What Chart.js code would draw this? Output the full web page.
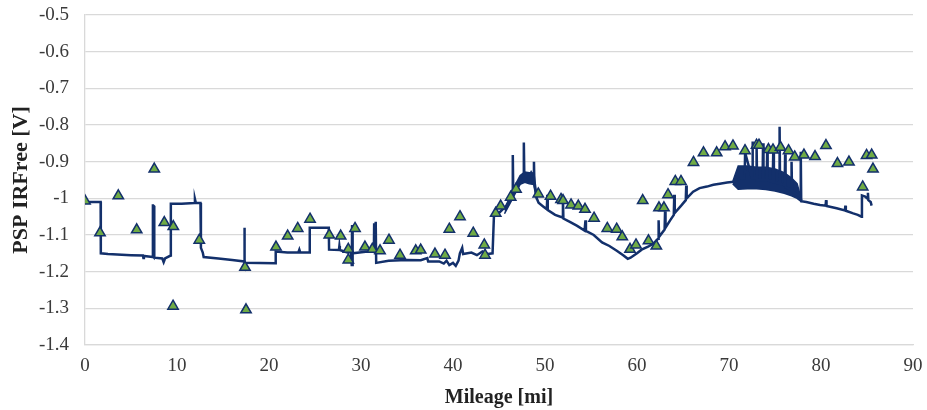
<!DOCTYPE html>
<html>
<head>
<meta charset="utf-8">
<title>PSP IRFree vs Mileage</title>
<script src="https://cdn.jsdelivr.net/npm/chart.js@4/dist/chart.umd.min.js"></script>
<style>
  html, body { margin: 0; padding: 0; background: #fff; }
  #wrap { width: 927px; height: 410px; }
</style>
</head>
<body>
<div id="wrap"><canvas id="chart" width="927" height="410"></canvas></div>
<script>
// Axis settings
const xTicksMin = 0, xTicksMax = 90, xStep = 10;
const yTicksMin = -1.4, yTicksMax = -0.5, yStep = 0.1;

// Continuous PSP IRFree trace (mileage, volts)
const lineMiles = [
  0, 1.70, 1.72, 2.5, 4.0, 5.0, 6.3, 6.35, 6.4, 7.35,
  7.38, 7.41, 7.44, 7.47, 7.50, 7.53, 8.4, 8.55, 8.7, 9.30,
  9.33, 10.5, 11.9, 11.95, 12.05, 12.55, 12.6, 12.8, 12.9, 14.5,
  16.0, 17.30, 17.33, 17.36, 20.70, 20.73, 22.0, 23.2, 23.3, 23.4,
  24.40, 24.43, 26.50, 26.53, 27.6, 27.65, 27.7, 28.2, 28.6, 28.9,
  29.00, 29.03, 29.06, 29.09, 29.12, 30.5, 31.40, 31.43, 31.47, 31.60,
  31.65, 33.0, 35.0, 36.5, 37.2, 37.3, 38.5, 39.0, 39.3, 39.6,
  40.0, 40.3, 40.6, 40.75, 41.0, 41.1, 42.0, 42.6, 43.2, 43.8,
  44.3, 44.45, 45.0, 45.4, 45.8, 46.2, 46.45, 46.5, 46.55, 46.9,
  47.2, 47.5, 47.65, 47.7, 47.75, 48.2, 48.5, 48.75, 48.8, 48.85,
  49.1, 49.3, 49.8, 50.2, 50.25, 50.3, 51.1, 51.9, 51.95, 52.0,
  52.6, 53.5, 54.3, 54.4, 54.45, 55.3, 56.2, 57.0, 57.8, 58.5,
  59.0, 59.3, 60.0, 60.5, 61.2, 61.8, 62.3, 62.35, 62.4, 63.0,
  63.05, 63.1, 63.6, 64.0, 64.05, 64.1, 64.8, 65.3, 65.35, 65.4,
  66.1, 66.8, 67.6, 68.3, 69.0, 69.8, 70.5,
  71.2, 71.7, 71.75, 72.5, 72.55, 72.6, 72.95, 73.0, 73.05, 73.65,
  73.7, 73.75, 74.1, 74.15, 74.2, 74.75, 74.82, 74.88, 75.45, 75.5,
  75.55, 76.05, 76.1, 76.15, 76.75, 76.8, 76.85, 77.75, 77.8, 77.85,
  78.4, 79.2, 79.9, 80.5, 80.55, 80.6, 81.7, 82.6, 82.65, 82.7,
  83.5, 84.0, 84.4, 84.45, 84.8, 85.0, 85.1, 85.15, 85.4, 85.5
];
const lineVolts = [
  -1.010, -1.010, -1.150, -1.152, -1.154, -1.155, -1.156, -1.163, -1.157, -1.160,
  -1.016, -1.160, -1.018, -1.161, -1.020, -1.162, -1.164, -1.174, -1.164, -1.156,
  -1.015, -1.015, -1.013, -1.002, -1.013, -1.013, -1.135, -1.148, -1.160, -1.164,
  -1.168, -1.172, -1.080, -1.176, -1.177, -1.145, -1.148, -1.147, -1.140, -1.148,
  -1.148, -1.080, -1.080, -1.140, -1.141, -1.130, -1.141, -1.145, -1.148, -1.145,
  -1.185, -1.073, -1.185, -1.078, -1.150, -1.146, -1.146, -1.068, -1.150, -1.064,
  -1.176, -1.170, -1.168, -1.169, -1.163, -1.172, -1.172, -1.178, -1.170, -1.182,
  -1.176, -1.184, -1.170, -1.150, -1.135, -1.152, -1.148, -1.155, -1.145, -1.152,
  -1.150, -1.048, -1.040, -1.030, -1.020, -1.000, -0.985, -0.882, -0.985, -0.970,
  -0.955, -0.940, -0.935, -0.848, -0.935, -0.945, -0.930, -0.940, -0.900, -0.965,
  -1.000, -1.012, -1.022, -1.030, -0.990, -1.032, -1.045, -1.052, -1.000, -1.055,
  -1.063, -1.075, -1.088, -1.060, -1.089, -1.100, -1.120, -1.130, -1.143, -1.155,
  -1.165, -1.162, -1.150, -1.140, -1.132, -1.123, -1.110, -1.060, -1.105, -1.085,
  -1.035, -1.080, -1.060, -1.045, -0.990, -1.040, -1.020, -1.005, -0.965, -1.000,
  -0.982, -0.972, -0.968, -0.963, -0.960, -0.957, -0.955,
  -0.945, -0.945, -0.875, -0.945, -0.845, -0.945, -0.945, -0.855, -0.950, -0.950,
  -0.850, -0.950, -0.950, -0.870, -0.950, -0.955, -0.860, -0.955, -0.960, -0.805,
  -0.960, -0.965, -0.880, -0.970, -0.975, -0.900, -0.980, -0.995, -0.873, -1.008,
  -1.010, -1.015, -1.018, -1.020, -1.005, -1.021, -1.027, -1.033, -1.020, -1.034,
  -1.041, -1.045, -1.050, -0.992, -0.995, -1.000, -0.985, -1.005, -1.010, -1.020
];

// Noisy stretch near the peak: upper and lower edge of the trace
const peakMiles = [45.6, 46.2, 46.8, 47.3, 47.8, 48.3, 48.8, 49.1];
const peakTop = [-1.030, -1.000, -0.962, -0.938, -0.928, -0.930, -0.932, -0.990];
const peakBottom = [-1.042, -1.014, -0.985, -0.962, -0.956, -0.960, -0.962, -1.004];

// Dense noisy block on the plateau: upper and lower edge
const bandMiles = [70.4, 71.0, 72.0, 73.0, 74.0, 75.0, 76.0, 76.8, 77.4, 77.9];
const bandTop = [-0.955, -0.912, -0.912, -0.915, -0.915, -0.920, -0.930, -0.945, -0.960, -1.005];
const bandBottom = [-0.960, -0.975, -0.974, -0.974, -0.976, -0.980, -0.986, -0.993, -1.000, -1.010];

// Spot measurements (triangles)
const triMiles = [
  0, 1.63, 3.62, 5.62, 7.53, 8.62, 9.60, 9.57, 12.42, 17.39,
  17.50, 20.76, 22.03, 23.12, 24.46, 26.55, 27.79, 28.62, 28.62, 29.35,
  30.43, 31.23, 32.07, 33.04, 34.24, 35.95, 36.49, 38.04, 39.13, 39.60,
  40.76, 42.20, 43.40, 43.48, 44.64, 45.18, 46.27, 46.85, 49.27, 50.60,
  51.74, 51.96, 52.83, 53.62, 54.35, 55.33, 56.77, 57.79, 58.40, 59.24,
  59.89, 60.62, 61.25, 62.10, 62.39, 62.93, 63.37, 64.16, 64.78, 66.14,
  67.23, 68.66, 69.57, 70.43, 71.74, 72.99, 73.26, 74.29, 74.78, 75.60,
  76.47, 77.14, 78.15, 79.35, 80.54, 81.79, 83.04, 84.53, 84.95, 85.51,
  85.65
];
const triVolts = [
  -1.007, -1.094, -0.993, -1.086, -0.920, -1.066, -1.077, -1.294, -1.114, -1.188,
  -1.304, -1.133, -1.103, -1.082, -1.057, -1.100, -1.103, -1.139, -1.168, -1.082,
  -1.133, -1.139, -1.143, -1.114, -1.155, -1.143, -1.141, -1.152, -1.155, -1.084,
  -1.050, -1.095, -1.127, -1.155, -1.041, -1.021, -0.997, -0.975, -0.988, -0.994,
  -1.003, -1.006, -1.018, -1.021, -1.030, -1.054, -1.082, -1.084, -1.105, -1.139,
  -1.127, -1.006, -1.116, -1.130, -1.026, -1.026, -0.990, -0.954, -0.954, -0.902,
  -0.876, -0.876, -0.859, -0.857, -0.870, -0.855, -0.855, -0.867, -0.868, -0.861,
  -0.870, -0.887, -0.882, -0.886, -0.856, -0.905, -0.901, -0.969, -0.883, -0.882,
  -0.920
];

const navy = '#13306b';
const green = '#6fab45';
const gridGray = '#d9d9d9';
const textGray = '#3a3a3a';
const serif = '"Liberation Serif", "Times New Roman", serif';

const toPoints = (xs, ys) => xs.map((m, i) => ({ x: m, y: ys[i] }));

// two edges filled between them, drawn in the trace colour
function envelope(xs, top, bottom) {
  const common = { showLine: true, pointRadius: 0, borderColor: navy, borderWidth: 1.5, backgroundColor: navy, tension: 0 };
  return [
    Object.assign({ data: toPoints(xs, top), fill: '+1' }, common),
    Object.assign({ data: toPoints(xs, bottom), fill: false }, common)
  ];
}

new Chart(document.getElementById('chart').getContext('2d'), {
  type: 'scatter',
  data: {
    datasets: [
      {
        label: 'Spot readings',
        data: toPoints(triMiles, triVolts),
        pointStyle: 'triangle',
        pointRadius: 6,
        pointHoverRadius: 6,
        backgroundColor: green,
        borderColor: navy,
        borderWidth: 1.5,
        showLine: false
      },
      {
        label: 'PSP IRFree',
        data: toPoints(lineMiles, lineVolts),
        showLine: true,
        pointRadius: 0,
        borderColor: navy,
        borderWidth: 2.5,
        tension: 0,
        fill: false
      },
      ...envelope(peakMiles, peakTop, peakBottom),
      ...envelope(bandMiles, bandTop, bandBottom)
    ]
  },
  options: {
    responsive: false,
    animation: false,
    layout: { padding: { left: 8, right: 14, top: 15, bottom: 0 } },
    plugins: { legend: { display: false }, tooltip: { enabled: false } },
    scales: {
      x: {
        type: 'linear',
        min: xTicksMin,
        max: xTicksMax,
        ticks: { stepSize: xStep, color: textGray, font: { family: serif, size: 19 }, padding: 10, maxRotation: 0 },
        grid: { display: false, drawTicks: false },
        border: { display: true, color: gridGray, width: 1.3 },
        title: { display: true, text: 'Mileage [mi]', color: '#222', font: { family: serif, size: 20, weight: 'bold' }, padding: 0 },
        afterFit: (scale) => {
          scale.height = 65;
          scale.paddingLeft = 0;
          scale.paddingRight = 0;
        }
      },
      y: {
        type: 'linear',
        min: yTicksMin,
        max: yTicksMax,
        ticks: {
          stepSize: yStep,
          color: textGray,
          font: { family: serif, size: 19 },
          padding: 16,
          callback: (v) => String(Number(v.toFixed(1)))
        },
        grid: { color: gridGray, lineWidth: 1.3, drawTicks: false },
        border: { display: true, color: gridGray, width: 1.3 },
        title: { display: true, text: 'PSP IRFree [V]', color: '#222', font: { family: serif, size: 22, weight: 'bold' }, padding: 0 },
        afterFit: (scale) => {
          scale.width = 77;
          scale.paddingTop = 0;
          scale.paddingBottom = 0;
        }
      }
    }
  }
});
</script>
</body>
</html>
